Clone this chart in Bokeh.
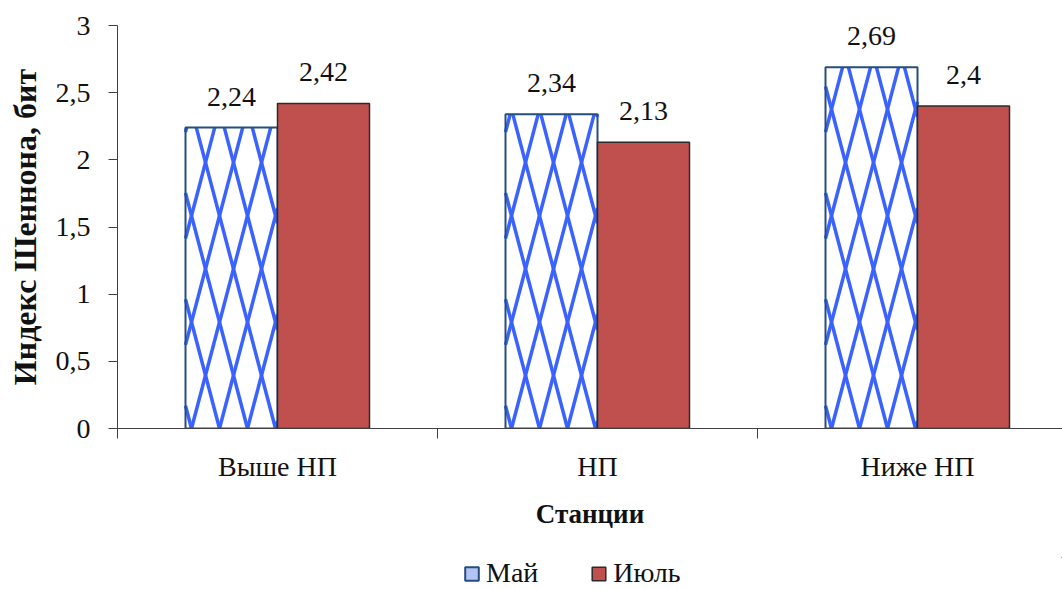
import math
from bokeh.plotting import figure
from bokeh.layouts import column
from bokeh.models import (Range1d, FixedTicker, ColumnDataSource, Legend, LegendItem)
from bokeh.core.properties import value
from bokeh.embed import file_html
from bokeh.resources import INLINE

# ---- data ----
stations = ["Выше НП", "НП", "Ниже НП"]
may = [2.24, 2.34, 2.69]
july = [2.42, 2.13, 2.40]
series_names = ["Май", "Июль"]
y_ticks = [0, 0.5, 1, 1.5, 2, 2.5, 3]
x_title = "Станции"
y_title = "Индекс Шеннона, бит"

FONT = "Liberation Serif"
W = 1062
H_MAIN, H_LEG = 557, 32
LEFT, TOP, FRAME_H = 117, 25, 403
BW = 0.2875                     # bar width in category units
PX_PER_CAT = 320.0
X_END = (W - LEFT) / PX_PER_CAT
Y_MAX = 3.0
PX_PER_Y = FRAME_H / Y_MAX

def fmt(v):
    return f"{v:g}".replace(".", ",")

centers = [i + 0.5 for i in range(len(stations))]
src_may = ColumnDataSource(dict(x=[c - BW / 2 for c in centers], top=may,
                                lab=[fmt(v) for v in may]))
src_jul = ColumnDataSource(dict(x=[c + BW / 2 for c in centers], top=july,
                                lab=[fmt(v) for v in july]))

# lattice (diamond) fill for the May bars, clipped to each bar
PERIOD, RATIO, PHASE = 28.0, 3.8, 6.0
lx0, ly0, lx1, ly1 = [], [], [], []
for c, t in zip(centers, may):
    bx0 = c - BW
    bw = BW * PX_PER_CAT
    bh = t * PX_PER_Y
    kmin = int(-math.ceil(bh / (RATIO * PERIOD))) - 2
    kmax = int(math.ceil(bw / PERIOD)) + int(math.ceil(bh / (RATIO * PERIOD))) + 2
    for k in range(kmin, kmax + 1):
        a = PHASE + k * PERIOD
        for sgn in (1, -1):
            if sgn == 1:
                v_lo, v_hi = RATIO * (0 - a), RATIO * (bw - a)
            else:
                v_lo, v_hi = RATIO * (a - bw), RATIO * (a - 0)
            v_lo, v_hi = max(v_lo, 0.0), min(v_hi, bh)
            if v_hi - v_lo <= 0.5:
                continue
            u_lo = a + sgn * v_lo / RATIO
            u_hi = a + sgn * v_hi / RATIO
            lx0.append(bx0 + u_lo / PX_PER_CAT)
            ly0.append(v_lo / PX_PER_Y)
            lx1.append(bx0 + u_hi / PX_PER_CAT)
            ly1.append(v_hi / PX_PER_Y)

p = figure(width=W, height=H_MAIN, output_backend="svg", toolbar_location=None,
           x_range=Range1d(0, X_END), y_range=Range1d(0, Y_MAX),
           min_border_left=LEFT, min_border_right=0, min_border_top=TOP,
           min_border_bottom=H_MAIN - TOP - FRAME_H)
p.outline_line_color = None
p.grid.visible = False
p.background_fill_color = "white"

p.vbar(x="x", top="top", width=BW, bottom=0, source=src_may,
       fill_color="white", line_color=None)
p.segment(x0=lx0, y0=ly0, x1=lx1, y1=ly1, line_color="#3A62FF", line_width=3.5)
p.vbar(x="x", top="top", width=BW, bottom=0, source=src_may,
       fill_color=None, line_color="#254E7E", line_width=2)
p.vbar(x="x", top="top", width=BW, bottom=0, source=src_jul,
       fill_color="#C0504D", line_color="#2B2B2B", line_width=1.5)

for src in (src_may, src_jul):
    p.text(x="x", y="top", text="lab", source=src, text_align="center",
           text_baseline="alphabetic", y_offset=-31,
           text_font=value(FONT), text_font_size="28px", text_color="#111111")

# x axis
xa = p.xaxis[0]
xa.ticker = FixedTicker(ticks=centers, minor_ticks=list(range(len(stations) + 1)))
xa.major_label_overrides = {c: s for c, s in zip(centers, stations)}
xa.major_tick_out = 0
xa.major_tick_in = 0
xa.minor_tick_out = 10
xa.minor_tick_in = 0
xa.minor_tick_line_color = "#404040"
xa.axis_line_color = "#404040"
xa.major_label_standoff = 12
xa.major_label_text_font = FONT
xa.major_label_text_font_size = "28px"
xa.major_label_text_color = "#111111"
xa.axis_label = x_title
xa.axis_label_standoff = 14
xa.axis_label_text_font = FONT
xa.axis_label_text_font_size = "27px"
xa.axis_label_text_font_style = "bold"
xa.axis_label_text_color = "#111111"

# y axis
ya = p.yaxis[0]
ya.ticker = FixedTicker(ticks=y_ticks, minor_ticks=[])
ya.major_label_overrides = {t: fmt(t) for t in y_ticks}
ya.major_tick_out = 9
ya.major_tick_in = 0
ya.major_tick_line_color = "#404040"
ya.axis_line_color = "#404040"
ya.major_label_standoff = 18
ya.major_label_text_font = FONT
ya.major_label_text_font_size = "28px"
ya.major_label_text_color = "#111111"
ya.axis_label = y_title
ya.axis_label_standoff = 10
ya.axis_label_text_font = FONT
ya.axis_label_text_font_size = "32px"
ya.axis_label_text_font_style = "bold"
ya.axis_label_text_color = "#111111"

# ---- legend strip below the chart ----
pl = figure(width=W, height=H_LEG, output_backend="svg", toolbar_location=None,
            x_range=Range1d(-101, -100), y_range=Range1d(-101, -100),
            x_axis_location=None, y_axis_location=None,
            min_border_left=0, min_border_right=0, min_border_top=0,
            min_border_bottom=0)
pl.outline_line_color = None
pl.grid.visible = False
# same series as the chart; the strip's ranges keep the bars out of view
lr_may = pl.vbar(x="x", top="top", width=BW, bottom=0, source=src_may,
                 fill_color="#B3C3F5", line_color="#254E7E", line_width=2)
lr_jul = pl.vbar(x="x", top="top", width=BW, bottom=0, source=src_jul,
                 fill_color="#C0504D", line_color="#2B2B2B", line_width=1.5)

legend = Legend(items=[LegendItem(label=series_names[0], renderers=[lr_may]),
                       LegendItem(label=series_names[1], renderers=[lr_jul])],
                orientation="horizontal", location=(346, 0),
                glyph_width=17, glyph_height=17, label_standoff=6, spacing=52,
                padding=0, margin=0, border_line_color=None,
                background_fill_alpha=0,
                label_text_font=FONT, label_text_font_size="28px",
                label_text_color="#111111")
pl.add_layout(legend, "center")

open("out.html", "w").write(file_html(column(p, pl), INLINE))
